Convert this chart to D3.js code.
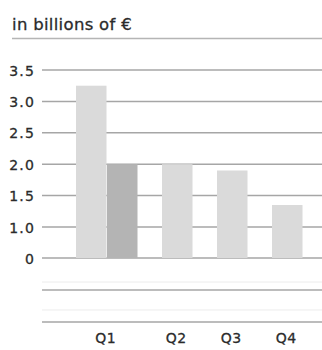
<!DOCTYPE html>
<html>
<head>
<meta charset="utf-8">
<script src="https://cdn.jsdelivr.net/npm/d3@7"></script>
<style>
  html, body { margin: 0; padding: 0; background: #fff; }
  svg { display: block; font-family: "DejaVu Sans", Verdana, sans-serif; }
  svg text { stroke: #2b2b2b; stroke-width: 0.3px; }
</style>
</head>
<body>
<svg id="chart" width="322" height="350"></svg>
<script>
// Quarterly figures, in billions of euro
const categories = ["Q1", "Q2", "Q3", "Q4"];
const reported = [3.25, 2.0, 1.9, 1.35];
const adjusted = [2.0, null, null, null];
const yTicks = [0, 1.0, 1.5, 2.0, 2.5, 3.0, 3.5];
const yTickLabels = ["0", "1.0", "1.5", "2.0", "2.5", "3.0", "3.5"];
const unitLabel = "in billions of \u20AC";

const svg = d3.select("#chart");
const W = 322;
const textColor = "#2b2b2b";

// Broken value axis: the 0–1 stretch is compressed to half a step
const y = d3.scaleLinear().domain([0, 1, 3.5]).range([258, 227, 70]);

// Unit title and rule below it
svg.append("text")
  .attr("x", 12).attr("y", 30)
  .attr("font-size", 16.5).attr("letter-spacing", 0.3).attr("fill", textColor)
  .text(unitLabel);
svg.append("line")
  .attr("x1", 12).attr("x2", W).attr("y1", 38.5).attr("y2", 38.5)
  .attr("stroke", "#b5b5b5").attr("stroke-width", 1.6);

// Gridlines and tick labels
const grid = svg.append("g");
yTicks.forEach((t, i) => {
  const yy = y(t);
  grid.append("line")
    .attr("x1", 42).attr("x2", W).attr("y1", yy).attr("y2", yy)
    .attr("stroke", "#a6a6a6").attr("stroke-width", 1.5);
  grid.append("text")
    .attr("x", 35).attr("y", yy + 5.5)
    .attr("text-anchor", "end")
    .attr("font-size", 14).attr("letter-spacing", 1.2).attr("fill", textColor)
    .text(yTickLabels[i]);
});

// Rules of the empty band under the baseline
const below = d3.scaleLinear().domain([0, -0.5]).range([258, 322]);
const strongRules = [-0.25, -0.5];
const faintRules = [-0.1875, -0.406];
strongRules.forEach(v => {
  grid.append("line")
    .attr("x1", 42).attr("x2", W).attr("y1", below(v)).attr("y2", below(v))
    .attr("stroke", "#a6a6a6").attr("stroke-width", 1.5);
});
faintRules.forEach(v => {
  grid.append("line")
    .attr("x1", 42).attr("x2", W).attr("y1", below(v)).attr("y2", below(v))
    .attr("stroke", "#ececec").attr("stroke-width", 1);
});

// Bar layout: groups of bars, fixed bar width, gap between groups
const bw = 30.5, groupGap = 24.5, xStart = 76;
const bars = [];
const centers = [];
let cursor = xStart;
categories.forEach((c, i) => {
  const series = [
    { key: "reported", v: reported[i], color: "#dadada" },
    { key: "adjusted", v: adjusted[i], color: "#b4b4b4" }
  ].filter(s => s.v != null);
  const start = cursor;
  series.forEach((s, j) => {
    bars.push({ cat: c, x: start + j * (bw + 0.5), v: s.v, color: s.color });
  });
  const width = series.length * bw + (series.length - 1) * 0.5;
  centers.push(start + width / 2);
  cursor = start + width + groupGap;
});

svg.append("g").selectAll("rect")
  .data(bars)
  .join("rect")
  .attr("x", d => d.x)
  .attr("width", bw)
  .attr("y", d => y(d.v))
  .attr("height", d => y(0) - y(d.v))
  .attr("fill", d => d.color);

// Category labels
svg.append("g").selectAll("text")
  .data(categories)
  .join("text")
  .attr("x", (d, i) => centers[i] - 1)
  .attr("y", 343)
  .attr("text-anchor", "middle")
  .attr("font-size", 14).attr("letter-spacing", 0.5).attr("fill", textColor)
  .text(d => d);
</script>
</body>
</html>
